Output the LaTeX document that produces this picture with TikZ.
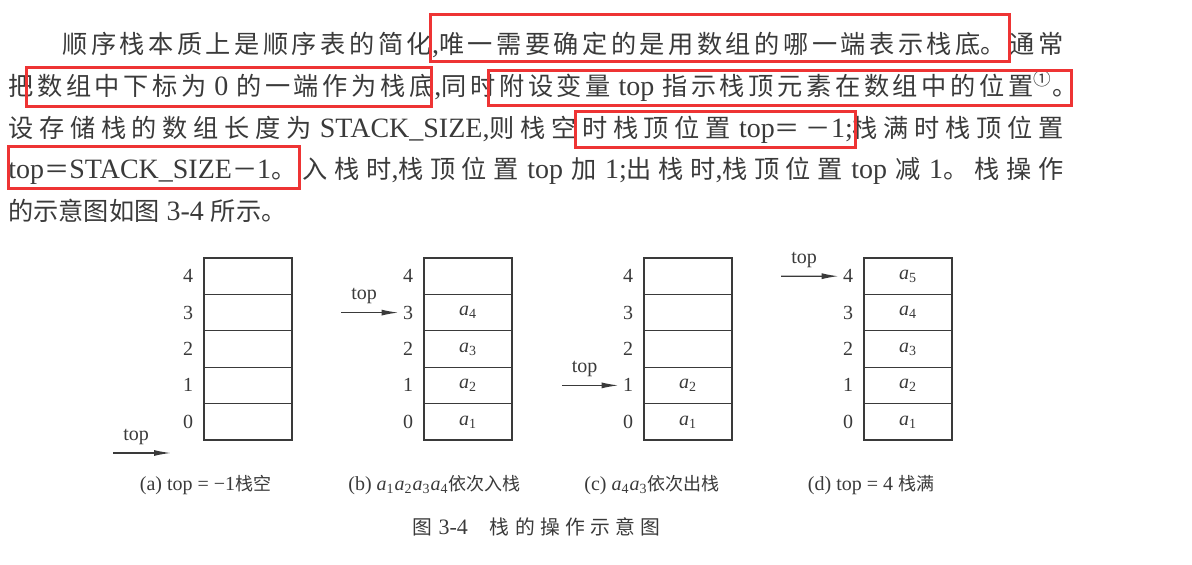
\documentclass[tikz,border=0pt]{standalone}
\usepackage{fontspec}
\setmainfont{Liberation Serif}
\newfontfamily\cjk{Noto Sans CJK SC}[Scale=0.9]
\usetikzlibrary{arrows.meta,positioning}
\XeTeXlinebreaklocale "zh"
\XeTeXlinebreakskip=0pt plus 8pt
\definecolor{ink}{RGB}{58,58,58}
\definecolor{markred}{RGB}{238,52,52}
\newcommand\elem[1]{\textit{a}\textsubscript{#1}}
\newcommand\jstart{\tolerance=9999\relax}
\newcommand\jend{\parfillskip=0pt\relax\par}

\begin{document}
\begin{tikzpicture}[x=0.5pt,y=-0.5pt]
		\tikzstyle{para}=[anchor=base west, inner sep=0pt, align=justify, text=ink, font=\fontsize{14pt}{17pt}\selectfont]
		\tikzstyle{redbox}=[draw=markred, line width=1.5pt]
		\tikzstyle{cell}=[rectangle, draw=ink, line width=0.6pt, minimum width=44pt, minimum height=18.2pt, inner sep=0pt, text=ink, font=\fontsize{10pt}{12pt}\selectfont]
		\tikzstyle{idx}=[inner sep=2pt, text=ink, font=\fontsize{10pt}{12pt}\selectfont]
		\tikzstyle{ptr}=[draw=ink, line width=0.65pt, -{Latex[length=8.5pt,width=3pt]}]
		\tikzstyle{subcap}=[anchor=base, inner sep=0pt, text=ink, font=\fontsize{10pt}{12pt}\selectfont]
		\useasboundingbox (0,0) rectangle (1192,565);
		
		% paragraph
		\node[para, text width=500.5pt] (l1) at (62,54) {\jstart{\cjk 顺序栈本质上是顺序表的简化},{\cjk 唯一需要确定的是用数组的哪一端表示栈底。通常}\jend};
		\node[para, text width=534.5pt] (l2) at (8,95.7) {\jstart{\cjk 把数组中下标为} 0 {\cjk 的一端作为栈底},{\cjk 同时附设变量} top {\cjk 指示栈顶元素在数组中的位置}\textsuperscript{\cjk ①}{\cjk 。}\jend};
		\node[para, text width=527.5pt] (l3) at (8,137.4) {\jstart{\cjk 设存储栈的数组长度为} STACK\_SIZE,{\cjk 则栈空时栈顶位置} top{\cjk ＝－}1;{\cjk 栈满时栈顶位置}\jend};
		\node[para, text width=527.5pt] (l4) at (8,179) {\jstart top{\cjk ＝}STACK\_SIZE{\cjk －}1{\cjk 。入栈时},{\cjk 栈顶位置} top {\cjk 加} 1;{\cjk 出栈时},{\cjk 栈顶位置} top {\cjk 减} 1{\cjk 。栈操作}\jend};
		\node[anchor=base west, inner sep=0pt, text=ink, font=\fontsize{14pt}{17pt}\selectfont] (l5) at (8,220.8) {{\cjk 的示意图如图} 3-4 {\cjk 所示。}};
		
		% red marks
		\draw[redbox] (430,15) rectangle (1009,62);
		\draw[redbox] (26,68) rectangle (431,107);
		\draw[redbox] (488,71) rectangle (1071,106);
		\draw[redbox] (575,112) rectangle (855,148);
		\draw[redbox] (8,147) rectangle (299,189);
		
		% stacks
		\foreach \s/\x/\n in {a/248/0, b/468/4, c/688/2, d/908/5} {
			\foreach \i in {0,...,4} {
				\node[cell] (\s\i) at (\x, 421.8-36.4*\i) {\ifnum\i<\n \elem{\the\numexpr\i+1\relax}\fi};
				\node[idx]  (l\s\i) at (\x-60, 421.8-36.4*\i) {\i};
			}
		}
		
		% top pointers
		\coordinate (ta)  at (113,453);
		\coordinate (tae) at (171,453);
		\coordinate (tb)  at (341,312.6);
		\coordinate (tc)  at (562,385.4);
		\coordinate (td)  at (781,276.2);
		\path 
		(ta) edge [ptr] node[idx, above=2pt, pos=0.4] {top} (tae)
		(tb) edge [ptr] node[idx, above=2pt, pos=0.4] {top} (lb3)
		(tc) edge [ptr] node[idx, above=2pt, pos=0.4] {top} (lc1)
		(td) edge [ptr] node[idx, above=2pt, pos=0.4] {top} (ld4)
		;
		
		% captions
		\node[subcap] (capa) at (205.5,491) {(a) top = −1{\cjk 栈空}};
		\node[subcap] (capb) at (434.5,491) {(b) \elem{1}\elem{2}\elem{3}\elem{4}{\cjk 依次入栈}};
		\node[subcap] (capc) at (652,491) {(c) \elem{4}\elem{3}{\cjk 依次出栈}};
		\node[subcap] (capd) at (871,491) {(d) top = 4 {\cjk 栈满}};
		\node[para, text width=124pt, font=\fontsize{11pt}{13pt}\selectfont] (fig) at (412,535) {\jstart{\cjk 图} 3-4\quad{\cjk 栈的操作示意图}\jend};
		
\end{tikzpicture}
\end{document}
